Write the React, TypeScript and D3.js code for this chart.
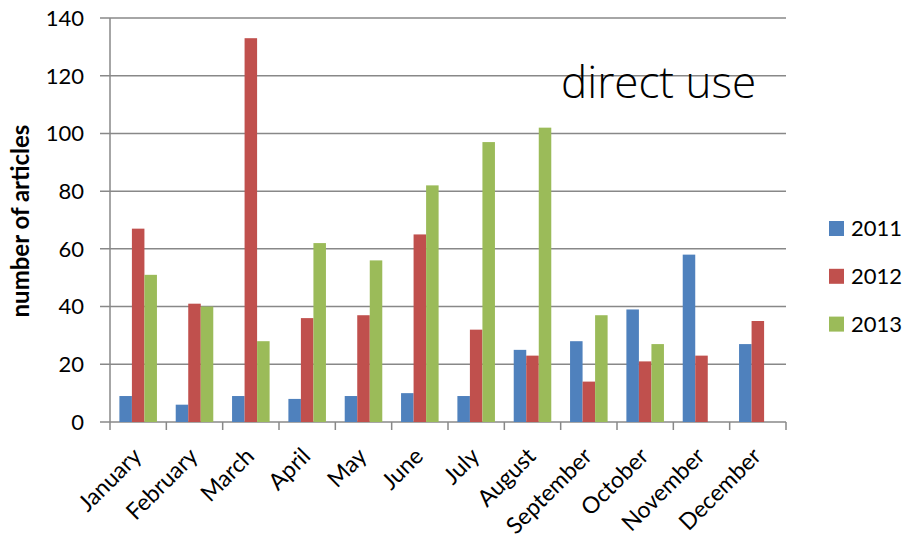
import React from "react";
import * as d3 from "d3";

const months = ["January","February","March","April","May","June","July","August","September","October","November","December"];
const series = ["2011","2012","2013"];
const values2011 = [9,6,9,8,9,10,9,25,28,39,58,27];
const values2012 = [67,41,133,36,37,65,32,23,14,21,23,35];
const values2013 = [51,40,28,62,56,82,97,102,37,27,0,0];
const colors = ["#4F81BD","#C0504D","#9BBB59"];
const yTicks = [0,20,40,60,80,100,120,140];

const W = 906, H = 543;
const left = 110, right = 786, top = 18, bottom = 422;
const FONT = "Lato, 'Open Sans', sans-serif";
const TFONT = "'Open Sans', sans-serif";

export default function App() {
  const x = d3.scaleBand<string>().domain(months).range([left, right]).paddingInner(0).paddingOuter(0);
  const bw = x.bandwidth() / 4.5;
  const y = d3.scaleLinear().domain([0, 140]).range([bottom, top]);
  const all = [values2011, values2012, values2013];
  return (
    <svg width={W} height={H} style={{ position: "absolute", left: 0, top: 0, background: "#fff" }}>
      {yTicks.map(t => (
        <g key={t}>
          <line x1={left - 10} x2={right} y1={y(t)} y2={y(t)} stroke="#888" strokeWidth={1.5} />
          <text x={84} y={y(t)} dy="0.36em" textAnchor="end" fontFamily={FONT} fontSize={22} fill="#000">{t}</text>
        </g>
      ))}
      <line x1={left} x2={left} y1={top} y2={bottom} stroke="#888" strokeWidth={1.5} />
      {months.map((m, i) => (
        <line key={m} x1={x(m)!} x2={x(m)!} y1={bottom} y2={bottom + 8} stroke="#888" strokeWidth={1.5} />
      ))}
      <line x1={right} x2={right} y1={bottom} y2={bottom + 8} stroke="#888" strokeWidth={1.5} />
      {all.map((vals, s) =>
        vals.map((v, i) => v > 0 ? (
          <rect key={s + "-" + i}
            x={x(months[i])! + 0.75 * bw + s * bw}
            y={y(v)} width={bw} height={bottom - y(v)} fill={colors[s]} />
        ) : null)
      )}
      {months.map(m => {
        const cx = x(m)! + x.bandwidth() / 2 - 1;
        const cy = bottom + 30;
        return (
          <text key={m} x={cx} y={cy} transform={`rotate(-45 ${cx} ${cy})`} textAnchor="end"
            dy="0.35em" fontFamily={FONT} fontSize={23} fill="#000">{m}</text>
        );
      })}
      <text transform={`translate(29 221) rotate(-90)`} textAnchor="middle" fontFamily={FONT}
        fontSize={24} fontWeight="bold" fill="#000">number of articles</text>
      <text x={561} y={98} fontFamily={TFONT} fontSize={44} fontWeight={300} fill="#000">direct use</text>
      {series.map((s, i) => (
        <g key={s}>
          <rect x={829} y={221 + i * 47.8} width={15} height={15} fill={colors[i]} />
          <text x={851} y={228.5 + i * 47.8} dy="0.36em" fontFamily={FONT} fontSize={22} fill="#000">{s}</text>
        </g>
      ))}
    </svg>
  );
}
